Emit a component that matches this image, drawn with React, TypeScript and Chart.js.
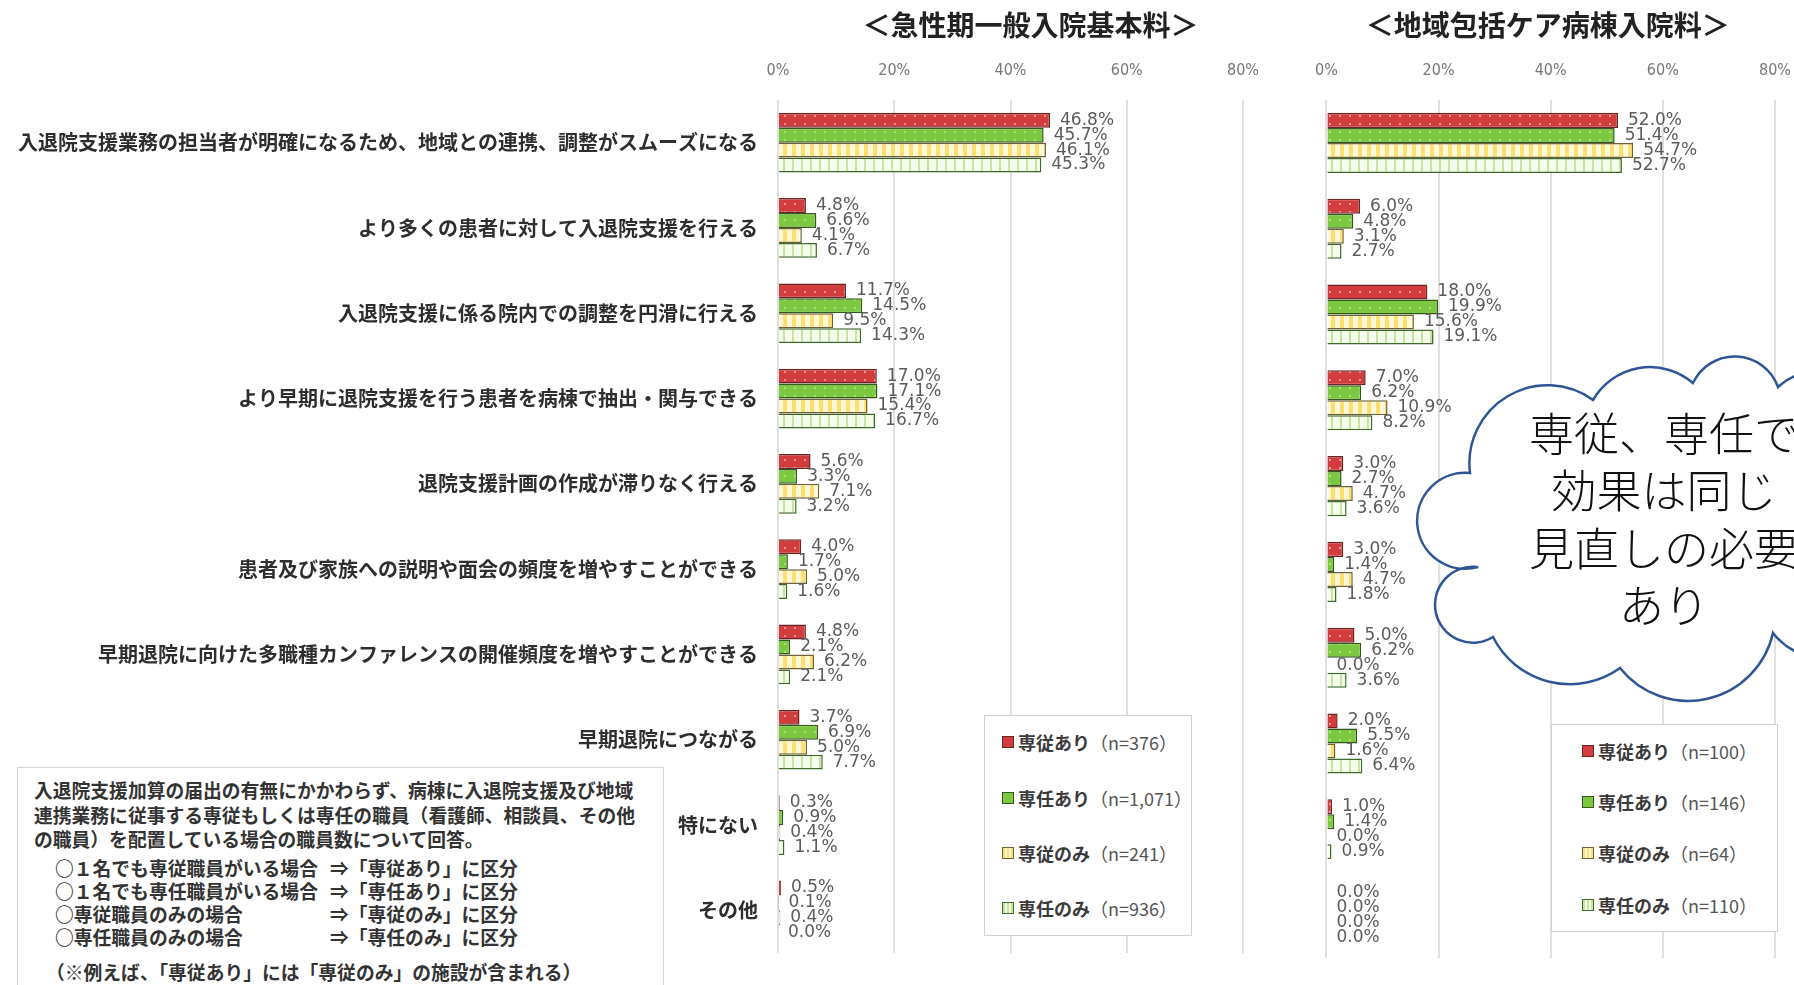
import { useEffect, useRef } from 'react';
import { Chart, registerables } from 'chart.js';

Chart.register(...registerables);

// ---- data ----
const categories = [
  '入退院支援業務の担当者が明確になるため、地域との連携、調整がスムーズになる',
  'より多くの患者に対して入退院支援を行える',
  '入退院支援に係る院内での調整を円滑に行える',
  'より早期に退院支援を行う患者を病棟で抽出・関与できる',
  '退院支援計画の作成が滞りなく行える',
  '患者及び家族への説明や面会の頻度を増やすことができる',
  '早期退院に向けた多職種カンファレンスの開催頻度を増やすことができる',
  '早期退院につながる',
  '特にない',
  'その他',
];

const seriesNames = ['専従あり', '専任あり', '専従のみ', '専任のみ'];

// 急性期一般入院基本料
const acuteSenjuAri = [46.8, 4.8, 11.7, 17.0, 5.6, 4.0, 4.8, 3.7, 0.3, 0.5];
const acuteSenninAri = [45.7, 6.6, 14.5, 17.1, 3.3, 1.7, 2.1, 6.9, 0.9, 0.1];
const acuteSenjuNomi = [46.1, 4.1, 9.5, 15.4, 7.1, 5.0, 6.2, 5.0, 0.4, 0.4];
const acuteSenninNomi = [45.3, 6.7, 14.3, 16.7, 3.2, 1.6, 2.1, 7.7, 1.1, 0.0];
const acuteCounts = ['376', '1,071', '241', '936'];

// 地域包括ケア病棟入院料
const communitySenjuAri = [52.0, 6.0, 18.0, 7.0, 3.0, 3.0, 5.0, 2.0, 1.0, 0.0];
const communitySenninAri = [51.4, 4.8, 19.9, 6.2, 2.7, 1.4, 6.2, 5.5, 1.4, 0.0];
const communitySenjuNomi = [54.7, 3.1, 15.6, 10.9, 4.7, 4.7, 0.0, 1.6, 0.0, 0.0];
const communitySenninNomi = [52.7, 2.7, 19.1, 8.2, 3.6, 1.8, 3.6, 6.4, 0.9, 0.0];
const communityCounts = ['100', '146', '64', '110'];

const axisMax = 80;
const axisStep = 20;

const panelTitles = ['＜急性期一般入院基本料＞', '＜地域包括ケア病棟入院料＞'];

const noteParagraph = [
  '入退院支援加算の届出の有無にかかわらず、病棟に入退院支援及び地域',
  '連携業務に従事する専従もしくは専任の職員（看護師、相談員、その他',
  'の職員）を配置している場合の職員数について回答。',
];
const noteRulesLeft = [
  '○１名でも専従職員がいる場合',
  '○１名でも専任職員がいる場合',
  '○専従職員のみの場合',
  '○専任職員のみの場合',
];
const noteRulesRight = [
  '⇒「専従あり」に区分',
  '⇒「専任あり」に区分',
  '⇒「専従のみ」に区分',
  '⇒「専任のみ」に区分',
];
const noteFootnote = '（※例えば、「専従あり」には「専従のみ」の施設が含まれる）';

const calloutLines = ['専従、専任で', '効果は同じ', '見直しの必要', 'あり'];

// ---- styling ----
const JP = '"Noto Sans CJK JP", "Noto Sans", sans-serif';
const NUM = '"DejaVu Sans", "Noto Sans", sans-serif';

const borderColors = ['#6b2626', '#35591c', '#6e6238', '#3f6a2c'];
const legendFills = [
  '#d23c3c',
  '#7cc840',
  'repeating-linear-gradient(90deg, #ffdf6e 0 2px, #fff8dc 2px 4px)',
  'repeating-linear-gradient(90deg, #c6e79a 0 2px, #f6fcee 2px 4px)',
];

function makePattern(kind: number): CanvasPattern | string {
  const c = document.createElement('canvas');
  const g = c.getContext('2d');
  if (!g) return '#cccccc';
  if (kind === 0) {
    c.width = 10; c.height = 8;
    g.fillStyle = '#d23c3c'; g.fillRect(0, 0, 10, 8);
    g.fillStyle = 'rgba(255,190,190,0.7)'; g.fillRect(4, 3, 2, 2);
  } else if (kind === 1) {
    c.width = 10; c.height = 8;
    g.fillStyle = '#7cc840'; g.fillRect(0, 0, 10, 8);
    g.fillStyle = 'rgba(200,240,160,0.6)'; g.fillRect(4, 3, 2, 2);
  } else if (kind === 2) {
    c.width = 9; c.height = 4;
    g.fillStyle = '#fff8da'; g.fillRect(0, 0, 9, 4);
    g.fillStyle = '#ffdf6e'; g.fillRect(0, 0, 4, 4);
  } else {
    c.width = 9; c.height = 4;
    g.fillStyle = '#f6fcee'; g.fillRect(0, 0, 9, 4);
    g.fillStyle = '#c6e79a'; g.fillRect(0, 0, 2, 4);
  }
  return g.createPattern(c, 'repeat') || '#cccccc';
}

function buildDatasets(series: number[][]) {
  return series.map((values, i) => ({
    label: seriesNames[i],
    data: values,
    backgroundColor: makePattern(i),
    borderColor: borderColors[i],
    borderWidth: 1.5,
    categoryPercentage: 0.7,
    barPercentage: 1,
  }));
}

const valueLabels = {
  id: 'valueLabels',
  afterDatasetsDraw(chart: any) {
    const ctx = chart.ctx;
    ctx.save();
    ctx.font = `17px ${NUM}`;
    ctx.fillStyle = '#5c5c5c';
    ctx.textAlign = 'left';
    ctx.textBaseline = 'middle';
    chart.data.datasets.forEach((ds: any, i: number) => {
      const meta = chart.getDatasetMeta(i);
      meta.data.forEach((el: any, j: number) => {
        const v = ds.data[j] as number;
        ctx.fillText(`${v.toFixed(1)}%`, el.x + 10, el.y);
      });
    });
    ctx.restore();
  },
};

const panelTitle = {
  id: 'panelTitle',
  afterDraw(chart: any, _args: any, opts: any) {
    const { ctx, chartArea } = chart;
    ctx.save();
    ctx.font = `bold 28px ${JP}`;
    ctx.fillStyle = '#222';
    ctx.textAlign = 'center';
    ctx.textBaseline = 'middle';
    ctx.fillText(opts.text, (chartArea.left + chartArea.right) / 2 + (opts.shift || 0), 25);
    ctx.restore();
  },
};

function xScale() {
  return {
    position: 'top' as const,
    min: 0,
    max: axisMax,
    ticks: {
      stepSize: axisStep,
      callback: (v: any) => `${v}%`,
      color: '#777',
      font: { family: '"DejaVu Sans Condensed", "DejaVu Sans", sans-serif', size: 16 },
      padding: 20,
    },
    grid: { color: '#e0e0e0', lineWidth: 2, drawTicks: false },
    border: { display: false },
    afterFit: (s: any) => { s.height = 100; },
  };
}

function Panel(props: {
  series: number[][];
  title: string;
  showLabels: boolean;
  width: number;
  left: number;
  padLeft: number;
  padRight: number;
  axisWidth: number;
  titleShift: number;
}) {
  const ref = useRef<HTMLCanvasElement | null>(null);
  useEffect(() => {
    if (!ref.current) return;
    const chart = new Chart(ref.current, {
      type: 'bar',
      data: { labels: categories, datasets: buildDatasets(props.series) as any },
      options: {
        indexAxis: 'y',
        animation: false,
        responsive: false,
        maintainAspectRatio: false,
        layout: { padding: { left: props.padLeft, right: props.padRight, top: 0, bottom: 27 } },
        scales: {
          x: xScale() as any,
          y: {
            display: props.showLabels,
            ticks: {
              color: '#2e2e2e',
              font: { family: JP, size: 20, weight: 'bold' },
              padding: 20,
              autoSkip: false,
            },
            grid: { display: false, drawTicks: false },
            border: { display: false },
            afterFit: (s: any) => { s.width = props.axisWidth; },
          } as any,
        },
        plugins: {
          legend: { display: false },
          tooltip: { enabled: false },
          panelTitle: { text: props.title, shift: props.titleShift },
        } as any,
      },
      plugins: [valueLabels, panelTitle],
    });
    return () => chart.destroy();
  }, []);
  return (
    <canvas
      ref={ref}
      width={props.width}
      height={985}
      style={{ position: 'absolute', left: props.left, top: 0, width: props.width, height: 985 }}
    />
  );
}

function LegendBox(props: { counts: string[]; left: number; top: number; width: number; height: number; rows: number[]; markerX: number; textX: number }) {
  return (
    <div
      style={{
        position: 'absolute', left: props.left, top: props.top, width: props.width, height: props.height,
        border: '1.5px solid #d2d2d2', background: '#fff', boxSizing: 'border-box',
      }}
    >
      {seriesNames.map((name, i) => (
        <div key={name} style={{ position: 'absolute', left: 0, top: props.rows[i] - 14, height: 28, width: '100%' }}>
          <div
            style={{
              position: 'absolute', left: props.markerX, top: 8, width: 12, height: 12,
              background: legendFills[i], border: `1.5px solid ${borderColors[i]}`, boxSizing: 'border-box',
            }}
          />
          <div
            style={{
              position: 'absolute', left: props.textX, top: 0, lineHeight: '28px', whiteSpace: 'nowrap',
              fontFamily: JP, fontSize: 18, color: '#3a3a3a',
            }}
          >
            <span style={{ fontWeight: 'bold' }}>{name}</span>
            <span style={{ color: '#555' }}>（n={props.counts[i]}）</span>
          </div>
        </div>
      ))}
    </div>
  );
}

function NoteBox() {
  const top = 767;
  const base = { position: 'absolute' as const, whiteSpace: 'nowrap' as const, fontFamily: JP, fontSize: 18.8, fontWeight: 'bold' as const, color: '#333', lineHeight: '24px' };
  const paraRows = [789, 814, 838];
  const ruleRows = [867, 890, 913, 936];
  return (
    <div style={{ position: 'absolute', left: 17, top, width: 647, height: 240, border: '1.5px solid #d6d6d6', background: '#fff', boxSizing: 'border-box' }}>
      {noteParagraph.map((t, i) => (
        <div key={t} style={{ ...base, left: 16, top: paraRows[i] - top - 12 }}>{t}</div>
      ))}
      {noteRulesLeft.map((t, i) => (
        <div key={t} style={{ ...base, left: 37, top: ruleRows[i] - top - 12 }}>{t}</div>
      ))}
      {noteRulesRight.map((t, i) => (
        <div key={t} style={{ ...base, left: 312, top: ruleRows[i] - top - 12 }}>{t}</div>
      ))}
      <div style={{ ...base, left: 28, top: 971 - top - 12 }}>{noteFootnote}</div>
    </div>
  );
}

// cloud outline: each segment bulges outward between two cusps
const cloudSegments: [number, number, number, number][] = [
  // x, y, radius, largeArc
  [1593, 400, 78, 0],
  [1693, 383, 66, 0],
  [1778, 387, 46, 0],
  [1870, 405, 58, 0],
  [1905, 530, 72, 0],
  [1880, 625, 60, 0],
  [1773, 633, 64, 0],
  [1620, 668, 87, 0],
  [1493, 637, 86, 0],
  [1478, 567, 38, 1],
  [1470, 473, 48, 1],
];

function Callout() {
  let d = 'M 1470 473';
  cloudSegments.forEach(([x, y, r, large]) => {
    d += ` A ${r} ${r} 0 ${large} 1 ${x} ${y}`;
  });
  d += ' Z';
  return (
    <>
      <svg width={1794} height={985} style={{ position: 'absolute', left: 0, top: 0, pointerEvents: 'none' }}>
        <path d={d} fill="#fff" stroke="#2f5597" strokeWidth={2.5} />
      </svg>
      <div style={{ position: 'absolute', left: 1664 - 250, top: 403, width: 500, textAlign: 'center', fontFamily: JP, fontWeight: 300, fontSize: 45, lineHeight: '57.3px', color: '#111' }}>
        {calloutLines.map((t) => (
          <div key={t} style={{ whiteSpace: 'nowrap' }}>{t}</div>
        ))}
      </div>
    </>
  );
}

export default function App() {
  return (
    <div style={{ position: 'absolute', left: 0, top: 0, width: 1794, height: 985, overflow: 'hidden', background: '#fff' }}>
      <Panel
        series={[acuteSenjuAri, acuteSenninAri, acuteSenjuNomi, acuteSenninNomi]}
        title={panelTitles[0]}
        showLabels={true}
        width={1300}
        left={0}
        padLeft={0}
        padRight={57}
        axisWidth={778}
        titleShift={20}
      />
      <Panel
        series={[communitySenjuAri, communitySenninAri, communitySenjuNomi, communitySenninNomi]}
        title={panelTitles[1]}
        showLabels={false}
        width={516}
        left={1295}
        padLeft={0}
        padRight={0}
        axisWidth={0}
        titleShift={-3}
      />
      <NoteBox />
      <LegendBox counts={acuteCounts} left={984} top={715} width={208} height={221} rows={[26, 82, 137, 192]} markerX={17} textX={33} />
      <LegendBox counts={communityCounts} left={1551} top={724} width={227} height={208} rows={[26, 77, 128, 180]} markerX={30} textX={46} />
      <Callout />
    </div>
  );
}
